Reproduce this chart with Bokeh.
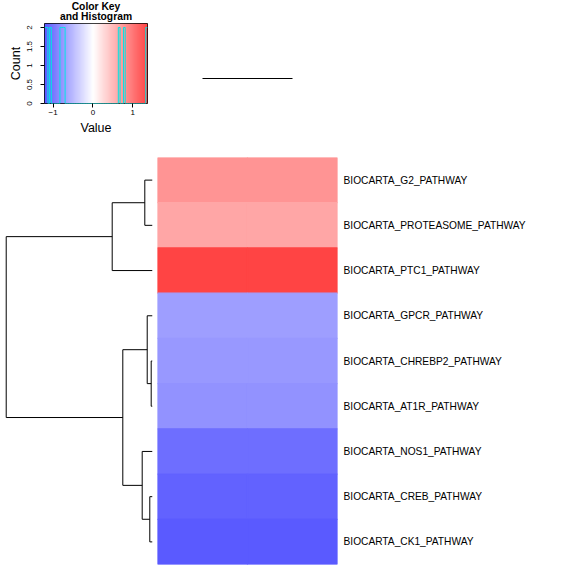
import numpy as np
from bokeh.plotting import figure
from bokeh.models import Range1d, LinearColorMapper, FixedTicker, LinearAxis, Spacer, ColumnDataSource
from bokeh.core.properties import value
from bokeh.layouts import row, column
from bokeh.embed import file_html
from bokeh.resources import INLINE

# ---------------- data ----------------
row_names = [
    "BIOCARTA_G2_PATHWAY",
    "BIOCARTA_PROTEASOME_PATHWAY",
    "BIOCARTA_PTC1_PATHWAY",
    "BIOCARTA_GPCR_PATHWAY",
    "BIOCARTA_CHREBP2_PATHWAY",
    "BIOCARTA_AT1R_PATHWAY",
    "BIOCARTA_NOS1_PATHWAY",
    "BIOCARTA_CREB_PATHWAY",
    "BIOCARTA_CK1_PATHWAY",
]
row_values = [0.785, 0.66, 1.37, -0.715, -0.76, -0.80, -1.07, -1.16, -1.217]
n_columns = 2  # the single score column is duplicated (heatmap needs 2 columns)

# row dendrogram, hclust style: negative = leaf (1-based, top-to-bottom order), positive = earlier merge
merge_left = [-5, -8, -4, -1, -7, 3, 4, 7]
merge_right = [-6, -9, 1, -2, 2, 5, -3, 6]
merge_height = [0.089, 0.185, 0.362, 0.526, 0.704, 2.03, 2.755, 10.0]

# column dendrogram: the two identical columns join at height 0
col_merge_height = [0.0]

key_title_lines = ["Color Key", "and Histogram"]
key_ticks = [-1, 0, 1]
count_ticks = [0, 0.5, 1, 1.5, 2]
count_tick_labels = ["0", "0.5", "1", "1.5", "2"]
n_bins = 60

# ---------------- styling ----------------
FONT = "Liberation Sans"
color_limit = 1.881


def bluered(n=256):
    out = []
    for i in range(n):
        t = i / (n - 1)
        if t < 0.5:
            f = t / 0.5
            r = g = int(round(255 * f))
            b = 255
        else:
            f = (t - 0.5) / 0.5
            r = 255
            g = b = int(round(255 * (1 - f)))
        out.append("#%02x%02x%02x" % (r, g, b))
    return out


mapper = LinearColorMapper(palette=bluered(), low=-color_limit, high=color_limit)

vmin, vmax = min(row_values), max(row_values)
n_rows = len(row_names)

# ---------------- key title (own strip above the key) ----------------
ktitle = figure(width=157, height=23, x_range=Range1d(vmin, vmax), y_range=Range1d(23, 0),
                output_backend="svg", toolbar_location=None,
                min_border_left=44, min_border_right=10, min_border_top=0, min_border_bottom=0)
ktitle.text(x=[(vmin + vmax) / 2] * 2, y=[5.5, 16.3], text=key_title_lines,
            text_align="center", text_baseline="middle",
            text_font=value(FONT), text_font_size="10.3px", text_font_style="bold",
            text_color="black")
ktitle.axis.visible = False
ktitle.grid.visible = False
ktitle.outline_line_color = None

# ---------------- key with histogram ----------------
all_vals = np.repeat(row_values, n_columns)
edges = np.linspace(vmin, vmax, n_bins + 1)
counts, _ = np.histogram(all_vals, bins=edges)
hy = np.append(counts, counts[-1])
ymax = counts.max() / 0.95

key = figure(width=157, height=127, x_range=ktitle.x_range, y_range=Range1d(0, ymax),
             output_backend="svg", toolbar_location=None,
             min_border_left=44, min_border_right=10, min_border_top=0, min_border_bottom=47)
grad = np.linspace(vmin, vmax, 400).reshape(1, -1)
key.image(image=[grad], x=vmin, y=0, dw=vmax - vmin, dh=ymax, color_mapper=mapper)
key.step(x=edges, y=hy, mode="after", line_color="#00e5e5", line_width=1)
key.grid.visible = False
key.outline_line_color = "black"
key.outline_line_width = 1

key.xaxis.ticker = FixedTicker(ticks=key_ticks)
key.yaxis.ticker = FixedTicker(ticks=count_ticks)
key.yaxis.major_label_overrides = {float(t): l for t, l in zip(count_ticks, count_tick_labels)}
key.yaxis.major_label_orientation = "vertical"
for ax in (key.xaxis[0], key.yaxis[0]):
    ax.axis_line_color = None
    ax.major_tick_in = 0
    ax.major_tick_out = 4
    ax.minor_tick_line_color = None
    ax.major_tick_line_color = "black"
    ax.major_label_text_font = FONT
    ax.major_label_text_font_size = "8px"
    ax.major_label_text_color = "black"
    ax.axis_label_text_font = FONT
    ax.axis_label_text_font_size = "12.5px"
    ax.axis_label_text_font_style = "normal"
    ax.axis_label_text_color = "black"
key.xaxis.axis_label = "Value"
key.yaxis.axis_label = "Count"
key.xaxis.major_label_standoff = 2
key.xaxis.axis_label_standoff = 3
key.yaxis.major_label_standoff = 9
key.yaxis.axis_label_standoff = 1

# ---------------- column dendrogram ----------------
col_x_range = Range1d(0.5, n_columns + 0.5)
coldend = figure(width=180, height=150, x_range=col_x_range, y_range=Range1d(-0.625, 1.375),
                 output_backend="svg", toolbar_location=None,
                 min_border_left=0, min_border_right=0, min_border_top=23, min_border_bottom=47)
coldend.segment(x0=[1], y0=col_merge_height, x1=[n_columns], y1=col_merge_height,
                line_color="black", line_width=1)
coldend.axis.visible = False
coldend.grid.visible = False
coldend.outline_line_color = None

# ---------------- row dendrogram ----------------
pos = {}
for k in range(1, n_rows + 1):
    pos[-k] = (float(k), 0.0)
x0s, y0s, x1s, y1s = [], [], [], []
for s, (a, b, h) in enumerate(zip(merge_left, merge_right, merge_height), start=1):
    ya, ha = pos[a]
    yb, hb = pos[b]
    x0s += [h, h, h]
    y0s += [ya, ya, yb]
    x1s += [h, ha, hb]
    y1s += [yb, ya, yb]
    pos[s] = ((ya + yb) / 2.0, h)

root_h = max(merge_height)
dend = figure(width=157, height=426, x_range=Range1d(root_h * 1.039, 0), y_range=Range1d(n_rows + 0.5, 0.5),
              output_backend="svg", toolbar_location=None,
              min_border_left=0, min_border_right=5, min_border_top=7, min_border_bottom=12)
dend.segment(x0=x0s, y0=y0s, x1=x1s, y1=y1s, line_color="black", line_width=1)
dend.axis.visible = False
dend.grid.visible = False
dend.outline_line_color = None

# ---------------- heatmap ----------------
hx, hyy, hv = [], [], []
for i, v in enumerate(row_values, start=1):
    for j in range(1, n_columns + 1):
        hx.append(j)
        hyy.append(i)
        hv.append(v)
src = ColumnDataSource(dict(x=hx, y=hyy, value=hv))
heat = figure(width=419, height=426, x_range=col_x_range, y_range=dend.y_range,
              output_backend="svg", toolbar_location=None,
              min_border_left=0, min_border_right=239, min_border_top=7, min_border_bottom=12)
heat.rect(x="x", y="y", width=1, height=1, source=src,
          fill_color={"field": "value", "transform": mapper},
          line_color={"field": "value", "transform": mapper}, line_width=1.2)
heat.axis.visible = False
heat.grid.visible = False
heat.outline_line_color = None
rax = LinearAxis(ticker=FixedTicker(ticks=list(range(1, n_rows + 1))),
                 major_label_overrides={i: name for i, name in enumerate(row_names, start=1)})
rax.axis_line_color = None
rax.major_tick_line_color = None
rax.minor_tick_line_color = None
rax.major_tick_in = 0
rax.major_tick_out = 0
rax.major_label_standoff = 6
rax.major_label_text_font = FONT
rax.major_label_text_font_size = "10.2px"
rax.major_label_text_color = "black"
heat.add_layout(rax, "right")

layout = column(row(column(ktitle, key), coldend, Spacer(width=239, height=150)), row(dend, heat))

open("out.html", "w").write(file_html(layout, INLINE))
